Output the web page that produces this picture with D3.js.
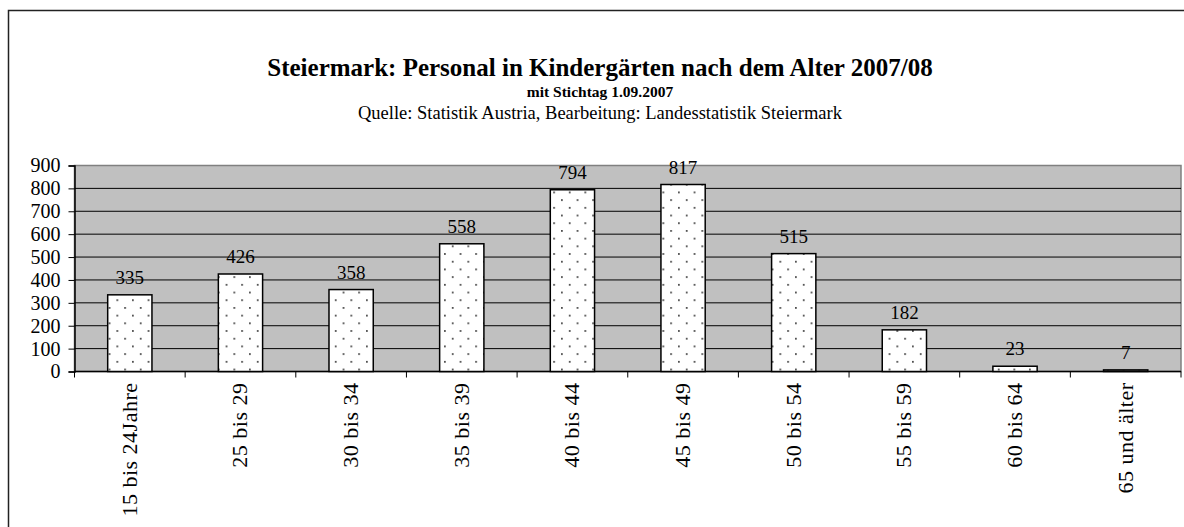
<!DOCTYPE html>
<html>
<head>
<meta charset="utf-8">
<script src="https://cdn.jsdelivr.net/npm/d3@7"></script>
<style>
  body { margin: 0; background: #fff; overflow: hidden; }
  text { font-family: "Liberation Serif", "Times New Roman", serif; fill: #000; }
</style>
</head>
<body>
<div id="chart"></div>
<script>
// data
var ageGroups = ["15 bis 24Jahre", "25 bis 29", "30 bis 34", "35 bis 39", "40 bis 44",
                 "45 bis 49", "50 bis 54", "55 bis 59", "60 bis 64", "65 und älter"];
var staffCount = [335, 426, 358, 558, 794, 817, 515, 182, 23, 7];
var yTickValues = [0, 100, 200, 300, 400, 500, 600, 700, 800, 900];

var titleText = "Steiermark: Personal in Kindergärten nach dem Alter 2007/08";
var subTitleText = "mit Stichtag 1.09.2007";
var sourceText = "Quelle: Statistik Austria, Bearbeitung: Landesstatistik Steiermark";

var W = 1184, H = 527;
var margin = {top: 165.5, right: 3, bottom: 155.5, left: 74.5};
var width = W - margin.left - margin.right;
var height = H - margin.top - margin.bottom;

var svg = d3.select("#chart").append("svg")
    .attr("width", W)
    .attr("height", H)
    .style("display", "block");

// dotted fill for the bars
var defs = svg.append("defs");
var pat = defs.append("pattern")
    .attr("id", "dots")
    .attr("patternUnits", "userSpaceOnUse")
    .attr("width", 15.6)
    .attr("height", 15.4);
pat.append("rect").attr("width", 15.6).attr("height", 15.4).attr("fill", "#fff");
pat.append("rect").attr("x", 3).attr("y", 3).attr("width", 1.6).attr("height", 1.6).attr("fill", "#222");
pat.append("rect").attr("x", 10.8).attr("y", 10.7).attr("width", 1.6).attr("height", 1.6).attr("fill", "#222");

// outer frame - only top and left edges are in the picture
svg.append("path")
    .attr("d", "M8.5," + H + "V10.5H" + W)
    .attr("fill", "none")
    .attr("stroke", "#222")
    .attr("stroke-width", 1.5);

// titles
svg.append("text")
    .attr("x", 600).attr("y", 76)
    .attr("text-anchor", "middle")
    .attr("font-size", 25).attr("font-weight", "bold")
    .text(titleText);
svg.append("text")
    .attr("x", 600).attr("y", 97)
    .attr("text-anchor", "middle")
    .attr("font-size", 15.5).attr("font-weight", "bold")
    .text(subTitleText);
svg.append("text")
    .attr("x", 600).attr("y", 119)
    .attr("text-anchor", "middle")
    .attr("font-size", 18.5)
    .text(sourceText);

var g = svg.append("g")
    .attr("transform", "translate(" + margin.left + "," + margin.top + ")");

var x = d3.scaleBand()
    .domain(ageGroups)
    .range([0, width])
    .paddingInner(0.6)
    .paddingOuter(0.3);

var y = d3.scaleLinear()
    .domain([0, 900])
    .range([height, 0]);

// plot background
g.append("rect")
    .attr("width", width)
    .attr("height", height)
    .attr("fill", "#c0c0c0")
    .attr("stroke", "#808080")
    .attr("stroke-width", 1.5);

// gridlines
g.selectAll(".grid")
    .data(yTickValues.slice(1, -1))
    .enter().append("line")
    .attr("x1", 0).attr("x2", width)
    .attr("y1", function(d) { return y(d); })
    .attr("y2", function(d) { return y(d); })
    .attr("stroke", "#000")
    .attr("stroke-width", 1);

// y axis
var yAxis = g.append("g")
    .call(d3.axisLeft(y).tickValues(yTickValues).tickSize(6).tickPadding(8));
yAxis.select(".domain").attr("stroke", "#000").attr("stroke-width", 1.5);
yAxis.selectAll("text")
    .attr("font-size", 20)
    .attr("font-family", "'Liberation Serif', serif")
    .attr("fill", "#000");

// x axis line + ticks between categories
g.append("line")
    .attr("x1", 0).attr("x2", width)
    .attr("y1", height).attr("y2", height)
    .attr("stroke", "#000").attr("stroke-width", 1.5);
g.selectAll(".xtick")
    .data(d3.range(ageGroups.length + 1))
    .enter().append("line")
    .attr("x1", function(i) { return i * x.step(); })
    .attr("x2", function(i) { return i * x.step(); })
    .attr("y1", height).attr("y2", height + 6)
    .attr("stroke", "#000");

// category labels, rotated
g.selectAll(".xlabel")
    .data(ageGroups)
    .enter().append("text")
    .attr("text-anchor", "end")
    .attr("font-size", 22)
    .attr("letter-spacing", 0.5)
    .attr("transform", function(d) {
        return "translate(" + (x(d) + x.bandwidth() / 2 + 7) + "," + (height + 11) + ") rotate(-90)";
    })
    .text(function(d) { return d; });

// bars
g.selectAll(".bar")
    .data(staffCount)
    .enter().append("rect")
    .attr("x", function(d, i) { return x(ageGroups[i]); })
    .attr("y", function(d) { return y(d); })
    .attr("width", x.bandwidth())
    .attr("height", function(d) { return height - y(d); })
    .attr("fill", "url(#dots)")
    .attr("stroke", "#000")
    .attr("stroke-width", 1.5);

// value labels
g.selectAll(".val")
    .data(staffCount)
    .enter().append("text")
    .attr("text-anchor", "middle")
    .attr("font-size", 19)
    .attr("x", function(d, i) { return x(ageGroups[i]) + x.bandwidth() / 2; })
    .attr("y", function(d) { return y(d) - 11; })
    .text(function(d) { return d; });
</script>
</body>
</html>
